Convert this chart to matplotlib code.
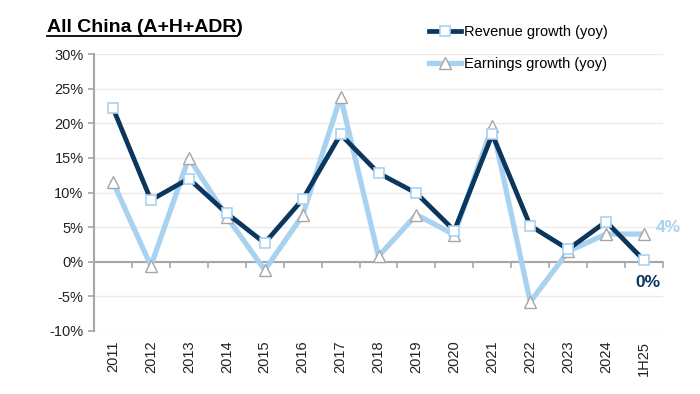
import matplotlib.pyplot as plt
from matplotlib.ticker import FuncFormatter, FixedLocator

# data (percent, yoy)
periods = ["2011", "2012", "2013", "2014", "2015", "2016", "2017", "2018",
           "2019", "2020", "2021", "2022", "2023", "2024", "1H25"]
revenue_growth = [22.2, 8.9, 12.0, 7.0, 2.7, 9.0, 18.4, 12.8,
                  9.9, 4.5, 18.4, 5.2, 1.8, 5.8, 0.2]
earnings_growth = [11.5, -0.6, 15.0, 6.5, -1.2, 6.7, 23.8, 0.8,
                   6.8, 3.9, 19.6, -5.8, 1.5, 4.0, 4.0]

navy = "#0B365E"
light_blue = "#A9D2F1"
grey = "#A6A6A6"

plt.rcParams['font.family'] = ['Liberation Sans', 'DejaVu Sans']

fig = plt.figure(figsize=(7, 3.94), dpi=100)
ax = fig.add_axes([94 / 700, 1 - 331 / 394, (663 - 94) / 700, (331 - 54) / 394])

x = list(range(len(periods)))

ax.plot(x, earnings_growth, color=light_blue, lw=3.8, marker="^", ms=8,
        mfc="white", mec=grey, mew=1.0, label="Earnings growth (yoy)", zorder=3)
ax.plot(x, revenue_growth, color=navy, lw=3.4, marker="s", ms=7,
        mfc="white", mec=light_blue, mew=1.2, label="Revenue growth (yoy)", zorder=4)

ax.set_xlim(-0.5, len(periods) - 0.5)
ax.set_ylim(-10, 30)
ax.set_yticks(range(-10, 31, 5))
ax.yaxis.set_major_formatter(FuncFormatter(lambda v, p: "%d%%" % v))
ax.grid(axis="y", color="#EBEBEB", lw=1.0)
ax.set_axisbelow(True)

for s in ["top", "right", "bottom"]:
    ax.spines[s].set_visible(False)
ax.spines["left"].set_color(grey)
ax.spines["left"].set_linewidth(1.5)
ax.tick_params(axis="y", colors=grey, length=4, width=1.2, labelcolor="#222222",
               labelsize=10.5)

# zero line with category separator ticks
ax.axhline(0, color=grey, lw=1.5, zorder=2)
for b in [i + 0.5 for i in range(-1, len(periods))]:
    ax.plot([b, b], [0, -0.8], color=grey, lw=1.2, zorder=2, clip_on=False)

ax.xaxis.set_major_locator(FixedLocator(x))
ax.set_xticklabels(periods, rotation=90, fontsize=10.5, color="#222222")
ax.tick_params(axis="x", length=0, pad=7)

# end labels
ax.annotate("4%", xy=(14, 4.0), xytext=(14.3, 5.0), color=light_blue,
            fontsize=12.5, fontweight="bold", ha="left", va="center",
            annotation_clip=False)
ax.annotate("0%", xy=(14, 0.2), xytext=(14.1, -3.0), color=navy,
            fontsize=12.5, fontweight="bold", ha="center", va="center",
            arrowprops=dict(arrowstyle="-", color="black", lw=0.8,
                            shrinkA=8, shrinkB=2),
            annotation_clip=False)

handles, labels = ax.get_legend_handles_labels()
fig.legend(handles[::-1], labels[::-1], loc="upper left",
           bbox_to_anchor=(416 / 700, 1 - 12 / 394), frameon=False,
           fontsize=10.5, handlelength=2.2, handletextpad=0.2,
           labelspacing=1.2)

fig.text(47 / 700, 1 - 27 / 394, "All China (A+H+ADR)", fontsize=14,
         fontweight="bold", va="center", ha="left", color="black")
fig.add_artist(plt.Line2D([47 / 700, 237 / 700], [1 - 36 / 394, 1 - 36 / 394],
                          color="black", lw=1.3))

fig.savefig("out.png", dpi=100)
